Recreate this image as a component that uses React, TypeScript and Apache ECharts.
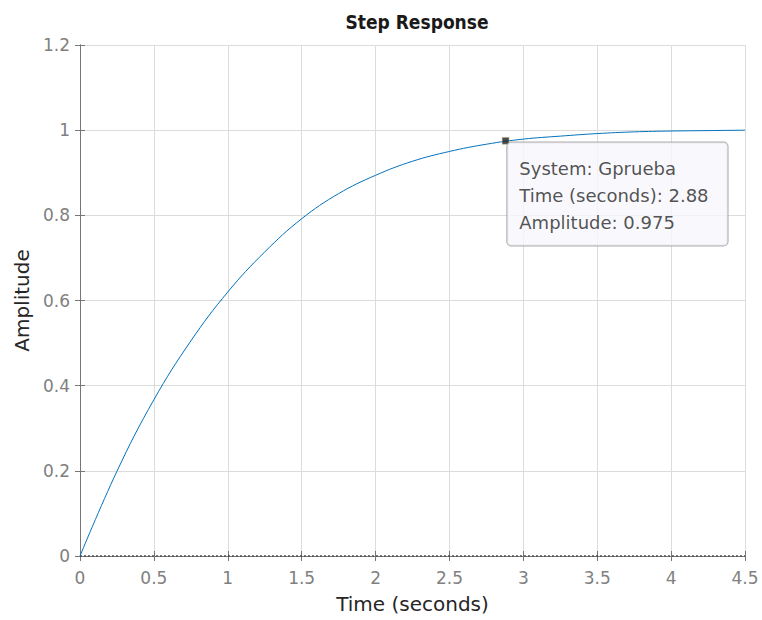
import React, { useEffect, useRef } from "react";
import * as echarts from "echarts";

const timeValues = [0, 0.25, 0.5, 0.75, 1.0, 1.25, 1.5, 1.75, 2.0, 2.25, 2.5, 2.75, 3.0, 3.25, 3.5, 3.75, 4.0, 4.25, 4.5];
const amplitudeValues = [0, 0.199, 0.367, 0.505, 0.62, 0.714, 0.792, 0.851, 0.894, 0.927, 0.95, 0.967, 0.979, 0.986, 0.992, 0.996, 0.998, 0.999, 1.0];
const dataTip = { system: "Gprueba", time: 2.88, amplitude: 0.975 };
const xTicks = { min: 0, max: 4.5, interval: 0.5 };
const yTicks = { min: 0, max: 1.2, interval: 0.2 };

const FONT = "DejaVu Sans";

export default function App() {
  const ref = useRef<HTMLDivElement>(null);
  useEffect(() => {
    if (!ref.current) return;
    const chart = echarts.init(ref.current, undefined, { renderer: "svg" });
    const axisLineColor = "#767676";
    const labelColor = "#808080";
    const gridColor = "#dcdcdc";
    const hiddenAxis = {
      axisLabel: { show: false },
      splitLine: { show: false },
      axisLine: { show: true, lineStyle: { color: axisLineColor, width: 1 } },
      axisTick: { show: true, inside: true, length: 5, lineStyle: { color: axisLineColor } },
    };
    chart.setOption({
      animation: false,
      backgroundColor: "#ffffff",
      title: {
        text: "Step Response",
        left: 412,
        top: 7,
        textAlign: "center",
        textStyle: {
          fontFamily: "Liberation Sans Narrow, DejaVu Sans Condensed, sans-serif",
          fontWeight: "bold",
          fontSize: 19,
          color: "#1a1a1a",
        },
      },
      grid: { left: 80, top: 45, width: 665, height: 511, containLabel: false },
      xAxis: [
        {
          type: "value",
          min: xTicks.min,
          max: xTicks.max,
          interval: xTicks.interval,
          position: "bottom",
          name: "Time (seconds)",
          nameLocation: "middle",
          nameGap: 38,
          nameTextStyle: { fontFamily: FONT, fontSize: 20, color: "#262626" },
          axisLine: { show: true, onZero: false, lineStyle: { color: axisLineColor, width: 1 } },
          axisTick: { show: true, inside: true, length: 5, lineStyle: { color: axisLineColor } },
          axisLabel: { fontFamily: FONT, fontSize: 17, color: labelColor, margin: 13 },
          splitLine: { show: true, lineStyle: { color: gridColor, width: 1 } },
        },
        {
          type: "value",
          min: xTicks.min,
          max: xTicks.max,
          interval: xTicks.interval,
          position: "top",
          ...hiddenAxis,
        },
      ],
      yAxis: [
        {
          type: "value",
          min: yTicks.min,
          max: yTicks.max,
          interval: yTicks.interval,
          position: "left",
          name: "Amplitude",
          nameLocation: "middle",
          nameGap: 47,
          nameTextStyle: { fontFamily: FONT, fontSize: 20, color: "#262626" },
          axisLine: { show: true, onZero: false, lineStyle: { color: axisLineColor, width: 1 } },
          axisTick: { show: true, inside: true, length: 5, lineStyle: { color: axisLineColor } },
          axisLabel: {
            fontFamily: FONT,
            fontSize: 17,
            color: labelColor,
            margin: 10,
            formatter: (v: number) => String(Math.round(v * 10) / 10),
          },
          splitLine: { show: true, lineStyle: { color: gridColor, width: 1 } },
        },
        {
          type: "value",
          min: yTicks.min,
          max: yTicks.max,
          interval: yTicks.interval,
          position: "right",
          ...hiddenAxis,
        },
      ],
      series: [
        {
          name: "ref",
          type: "line",
          data: [
            [xTicks.min, 0],
            [xTicks.max, 0],
          ],
          showSymbol: false,
          symbol: "none",
          lineStyle: { color: "#000000", width: 1, type: [2, 2] },
          z: 3,
        },
        {
          name: dataTip.system,
          type: "line",
          data: timeValues.map((t, i) => [t, amplitudeValues[i]]),
          showSymbol: false,
          symbol: "none",
          smooth: 0.4,
          lineStyle: { color: "#0072BD", width: 1 },
          z: 4,
        },
        {
          name: "datatip",
          type: "scatter",
          data: [[dataTip.time, dataTip.amplitude]],
          symbol: "rect",
          symbolSize: 7,
          itemStyle: { color: "#1f1f1f", borderColor: "#d8d8a0", borderWidth: 0.6 },
          z: 6,
          label: {
            show: true,
            position: [5.5, 5.5],
            formatter: () =>
              `System: ${dataTip.system}\nTime (seconds): ${dataTip.time}\nAmplitude: ${dataTip.amplitude}`,
            fontFamily: FONT,
            fontSize: 18,
            lineHeight: 27,
            color: "#262626",
            backgroundColor: "#f8f8fd",
            borderColor: "#9a9a9a",
            borderWidth: 1,
            borderRadius: 4,
            padding: [12, 19, 10, 12],
            align: "left",
            verticalAlign: "top",
          },
        },
      ],
    });
    return () => chart.dispose();
  }, []);
  return <div ref={ref} style={{ width: 762, height: 620, position: "absolute", left: 0, top: 0 }} />;
}
